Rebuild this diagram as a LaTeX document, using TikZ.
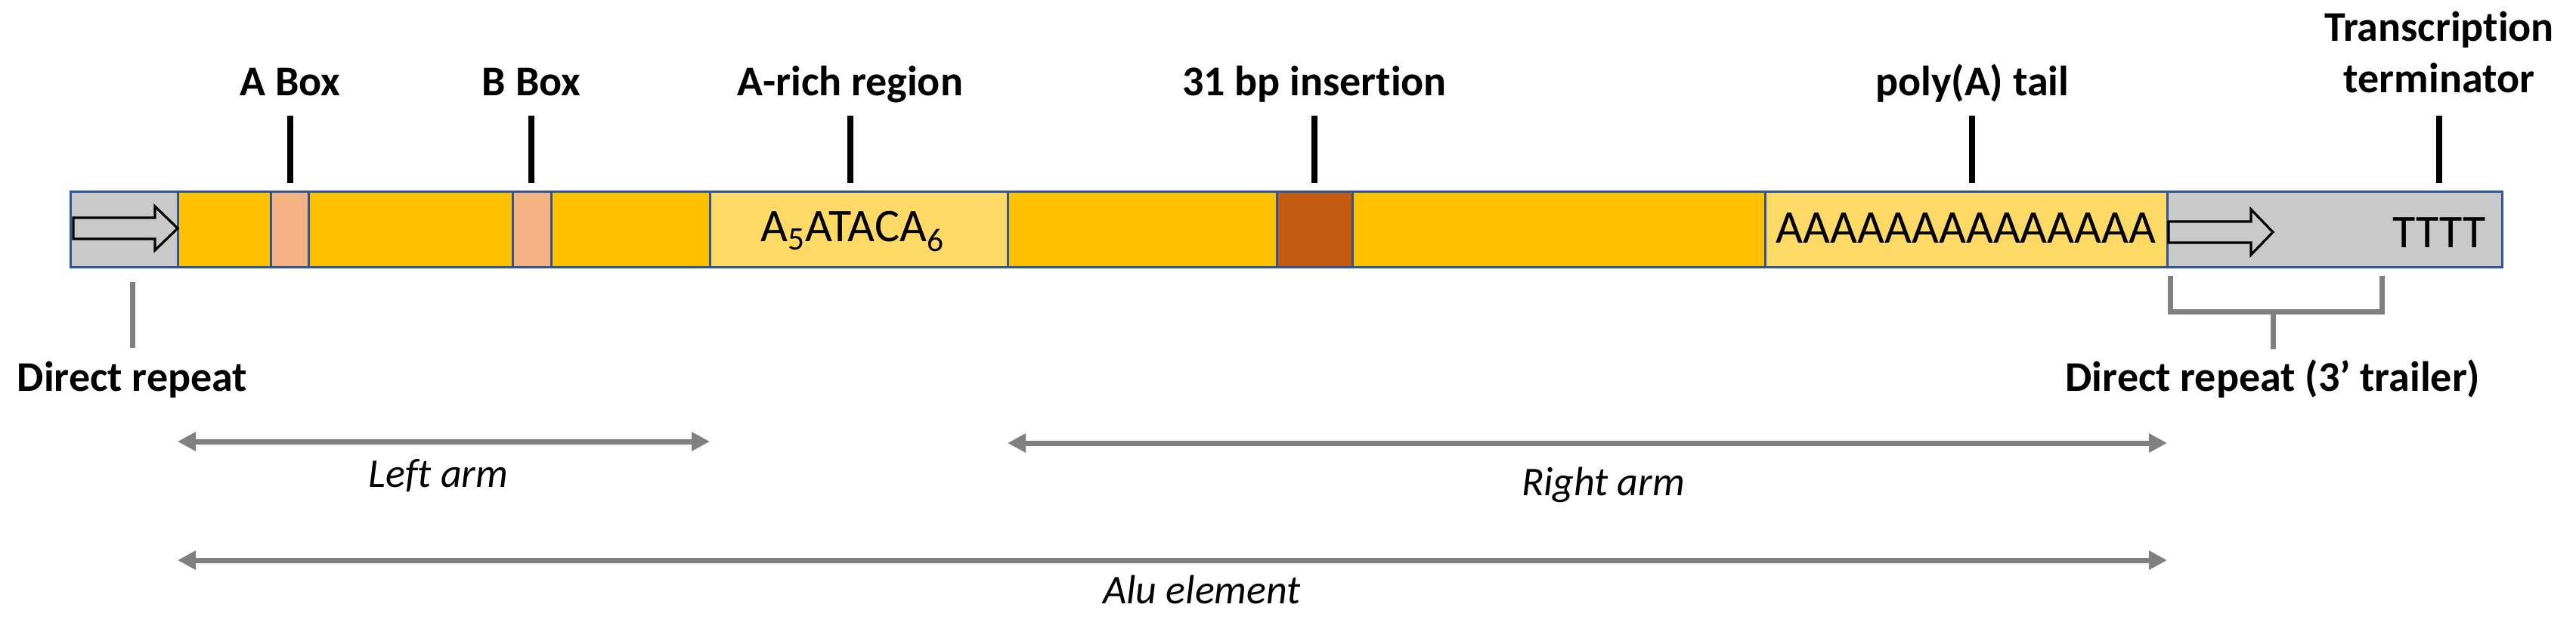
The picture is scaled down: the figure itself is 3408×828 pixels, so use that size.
\documentclass[tikz,border=0pt]{standalone}
\usepackage{fontspec}
\setmainfont{Carlito}[Ligatures=NoCommon]
\usetikzlibrary{arrows.meta,fit}
\definecolor{segyellow}{HTML}{FFC000}
\definecolor{segpink}{HTML}{F4B183}
\definecolor{seglight}{HTML}{FFD966}
\definecolor{segbrown}{HTML}{C55A11}
\definecolor{seggray}{HTML}{C9C9C9}
\definecolor{segblue}{HTML}{2F5597}
\definecolor{linegray}{HTML}{808080}
\begin{document}
\begin{tikzpicture}[x=0.5pt,y=-0.5pt,
  seg/.style={draw=segblue, line width=1.5pt, inner sep=0pt, outer sep=0pt},
  seqtext/.style={font=\fontsize{31}{36}\selectfont},
  lbl/.style={font=\bfseries\fontsize{28}{34}\selectfont, anchor=base, inner sep=0pt, align=center},
  armlbl/.style={font=\itshape\fontsize{27}{32}\selectfont, anchor=base, inner sep=0pt},
  tick/.style={draw=black, line width=4pt},
  gline/.style={draw=linegray, line width=3.5pt},
  span/.style={draw=linegray, line width=3.5pt, {Triangle[length=12pt,width=12pt]}-{Triangle[length=12pt,width=12pt]}},
  blk/.style={draw=black, fill=seggray, line width=1.6pt, line join=miter}]
\useasboundingbox (0,0) rectangle (3408,828);

% segments of the bar
\node[seg, fill=seggray,   fit={(93,254)(235,354)}]   (dr1) {};
\node[seg, fill=segyellow, fit={(235,254)(358,354)}]  (y1) {};
\node[seg, fill=segpink,   fit={(358,254)(408,354)}]  (abox) {};
\node[seg, fill=segyellow, fit={(408,254)(678,354)}]  (y2) {};
\node[seg, fill=segpink,   fit={(678,254)(729,354)}]  (bbox) {};
\node[seg, fill=segyellow, fit={(729,254)(939,354)}]  (y3) {};
\node[seg, fill=seglight,  fit={(939,254)(1333,354)}] (arich) {};
\node[seqtext] at (1128,306) (arichtxt) {A\textsubscript{5}ATACA\textsubscript{6}};
\node[seg, fill=segyellow, fit={(1333,254)(1689,354)}] (y4) {};
\node[seg, fill=segbrown,  fit={(1689,254)(1789,354)}] (ins) {};
\node[seg, fill=segyellow, fit={(1789,254)(2335,354)}] (y5) {};
\node[seg, fill=seglight,  fit={(2335,254)(2867,354)}] (polya) {};
\node[seqtext] at (2601,302) (polyatxt) {AAAAAAAAAAAAAA};
\node[seg, fill=seggray,   fit={(2867,254)(3310,354)}] (dr2) {};
\node[seqtext] at (3227,308) (tttt) {TTTT};

% block arrows in the direct repeats
\draw[blk] (97,288) -- (205,288) -- (205,273) -- (235,302) -- (205,331) -- (205,316) -- (97,316) -- cycle;
\draw[blk] (2869,293) -- (2978,293) -- (2978,277) -- (3007,307) -- (2978,337) -- (2978,321) -- (2869,321) -- cycle;

% top labels and ticks
\node[lbl] (lA) at (384,127) {A Box};
\node[lbl] (lB) at (703,127) {B Box};
\node[lbl] (lR) at (1125,127) {A-rich region};
\node[lbl] (lI) at (1739,127) {31 bp insertion};
\node[lbl] (lP) at (2609,127) {poly(A) tail};
\node[lbl] (lT) at (3227,123) {Transcription\\terminator};
\draw[tick] (lA |- 0,153) -- (lA |- 0,242);
\draw[tick] (lB |- 0,153) -- (lB |- 0,242);
\draw[tick] (lR |- 0,153) -- (lR |- 0,242);
\draw[tick] (lI |- 0,153) -- (lI |- 0,242);
\draw[tick] (lP |- 0,153) -- (lP |- 0,242);
\draw[tick] (lT |- 0,153) -- (lT |- 0,242);

% direct repeat labels
\node[lbl] (ldr1) at (175,517) {Direct repeat};
\draw[gline] (ldr1 |- 0,373) -- (ldr1 |- 0,460);
\node[lbl] (ldr2) at (3007,517) {Direct repeat (3’ trailer)};
\coordinate (brL) at (2871,365);
\coordinate (brR) at (3151,365);
\draw[gline] (brL) -- (brL |- 0,412) -- (brR |- 0,412) -- (brR);
\draw[gline] (ldr2 |- 0,412) -- (ldr2 |- 0,462);

% spans
\draw[span] (y1.west |- 0,584) -- (arich.west |- 0,584);
\node[armlbl] (lleft) at (580,644) {Left arm};
\draw[span] (y4.west |- 0,586) -- (polya.east |- 0,586);
\node[armlbl] (lright) at (2121,655) {Right arm};
\draw[span] (y1.west |- 0,741) -- (polya.east |- 0,741);
\node[armlbl] (lalu) at (1590,798) {Alu element};
\end{tikzpicture}
\end{document}
